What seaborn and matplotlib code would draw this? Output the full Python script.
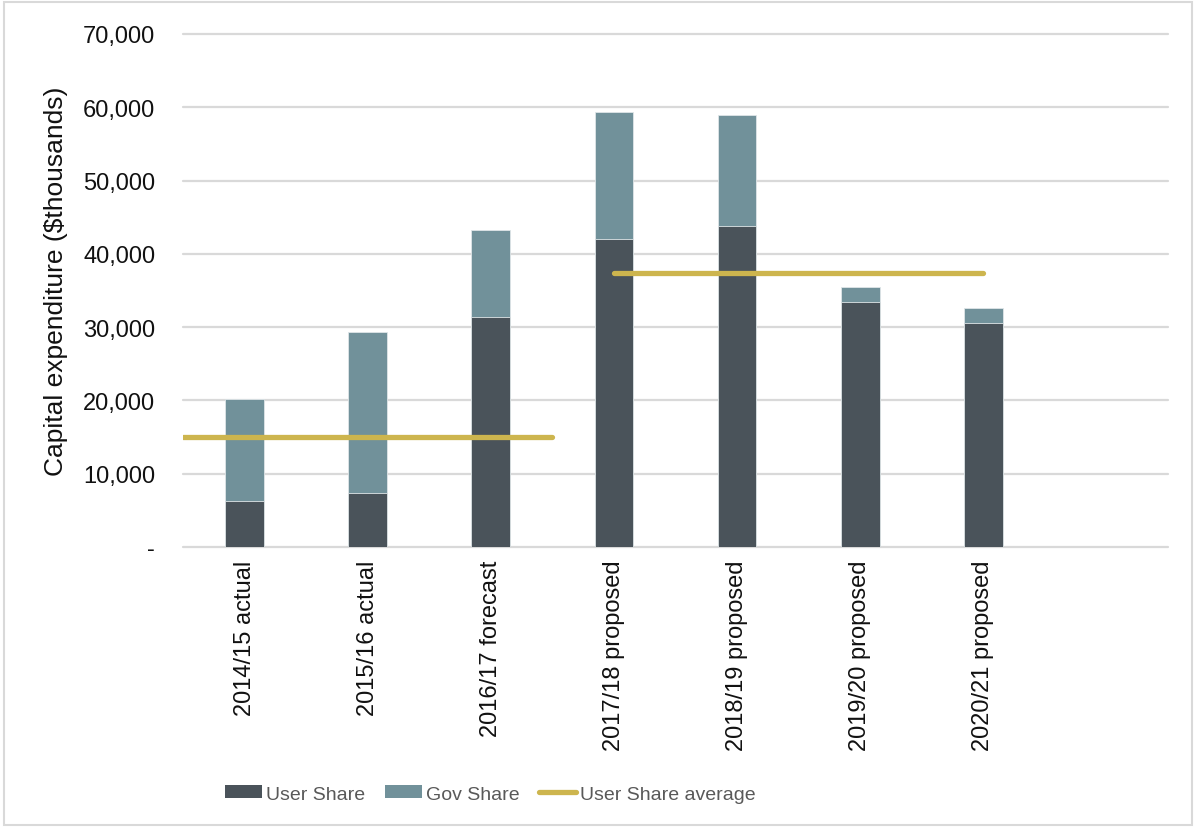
import matplotlib
matplotlib.use("Agg")
import matplotlib.pyplot as plt
from matplotlib.patches import Patch, Rectangle
from matplotlib.lines import Line2D
import seaborn as sns
import numpy as np

# Capital expenditure by year ($ thousands)
categories = ["2014/15 actual", "2015/16 actual", "2016/17 forecast",
              "2017/18 proposed", "2018/19 proposed", "2019/20 proposed",
              "2020/21 proposed"]
user_share = [6300, 7400, 31400, 42000, 43800, 33400, 30600]
gov_share = [13900, 21900, 11800, 17300, 15200, 2100, 2000]

# Averaging periods (category index ranges)
period1 = [0, 1, 2]
period2 = [3, 4, 5, 6]

y_ticks = [0, 10000, 20000, 30000, 40000, 50000, 60000, 70000]
y_tick_labels = ["-", "10,000", "20,000", "30,000", "40,000", "50,000", "60,000", "70,000"]

user_color = "#4a535a"
gov_color = "#71919a"
avg_color = "#cdb54e"
grid_color = "#d9d9d9"

sns.set_theme(style="white")
plt.rcParams["font.family"] = ["Liberation Sans", "DejaVu Sans"]

fig = plt.figure(figsize=(11.96, 8.29), dpi=100)
ax = fig.add_axes([0.153, 0.339, 0.8236, 0.6188])

totals = [u + g for u, g in zip(user_share, gov_share)]

sns.barplot(x=categories, y=totals, color=gov_color, width=0.315,
            saturation=1, ax=ax, edgecolor="#dfe6e8", linewidth=0.6, zorder=2)
sns.barplot(x=categories, y=user_share, color=user_color, width=0.315,
            saturation=1, ax=ax, edgecolor="#dfe6e8", linewidth=0.6, zorder=3)

avg1 = float(np.mean([user_share[i] for i in period1]))
avg2 = float(np.mean([user_share[i] for i in period2]))
ax.plot([period1[0] - 0.5, period1[-1] + 0.5], [avg1, avg1], color=avg_color,
        lw=3.8, solid_capstyle="round", zorder=4)
ax.plot([period2[0], period2[-1]], [avg2, avg2], color=avg_color,
        lw=3.8, solid_capstyle="round", zorder=4)

ax.set_xlim(-0.5, 7.5)
ax.set_ylim(0, 70000)
ax.set_yticks(y_ticks)
ax.set_yticklabels(y_tick_labels)
ax.tick_params(axis="y", length=0, pad=20, labelsize=17, labelcolor="#111111")
ax.tick_params(axis="x", length=0, pad=9, labelsize=17, labelcolor="#111111",
               labelrotation=90)

ax.set_axisbelow(True)
ax.yaxis.grid(True, color=grid_color, lw=1.6)
for gl in ax.get_ygridlines():
    gl.set_clip_on(False)
for s in ax.spines.values():
    s.set_visible(False)

ax.set_xlabel("")
ax.set_ylabel("Capital expenditure ($thousands)", fontsize=19, color="#111111")
ax.yaxis.set_label_coords(-0.117, 0.52)

handles = [
    Patch(facecolor=user_color, edgecolor="none", label="User Share"),
    Patch(facecolor=gov_color, edgecolor="none", label="Gov Share"),
    Line2D([0], [0], color=avg_color, lw=3.8, solid_capstyle="round",
           label="User Share average"),
]
leg = fig.legend(handles=handles, loc="center", bbox_to_anchor=(0.41, 0.041),
                 ncol=3, frameon=False, handlelength=1.9, handleheight=0.62,
                 handletextpad=0.2, columnspacing=1.0,
                 prop={"family": ["Liberation Sans", "DejaVu Sans"], "size": 14})
for t in leg.get_texts():
    t.set_color("#595959")

fig.patches.append(Rectangle((0.003, 0.004), 0.994, 0.992, transform=fig.transFigure,
                             fill=False, edgecolor="#d9d9d9", lw=1.5))

fig.savefig("out.png", dpi=100)
